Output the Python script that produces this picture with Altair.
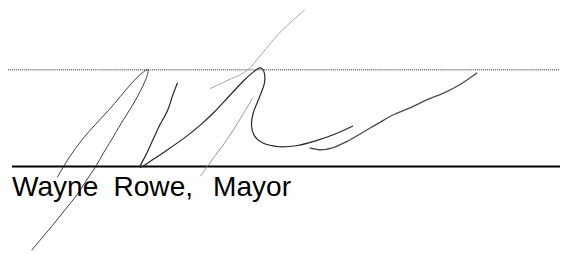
import altair as alt
import pandas as pd

# Signature strokes (x, y in picture pixels, y grows downward)
stroke_a_x = [58, 70, 83, 97, 110, 122, 133, 143, 150, 148, 141, 133, 123, 113, 105, 97, 87, 77, 65, 53, 42, 32]
stroke_a_y = [178, 158, 140, 124, 110, 96, 83, 73, 69, 78, 93, 107, 123, 140, 153, 167, 182, 197, 212, 227, 240, 252]
stroke_b_x = [180, 175, 170, 162, 155, 148, 142, 146, 155, 167, 187, 203, 217, 232, 247, 257, 264, 268, 268, 263, 257, 255, 258, 266, 283, 300, 320, 340, 358]
stroke_b_y = [82, 95, 110, 125, 140, 155, 167, 166, 160, 152, 138, 125, 112, 96, 80, 71, 67, 72, 83, 97, 112, 125, 136, 143, 147, 146, 141, 134, 126]
stroke_c_x = [213, 230, 250, 266, 283, 300, 316]
stroke_c_y = [88, 80, 70, 52, 32, 16, 2]
stroke_d_x = [256, 244, 230, 216, 203]
stroke_d_y = [98, 118, 140, 159, 177]
stroke_e_x = [314, 327, 340, 351, 367, 384, 400, 417, 434, 451, 468, 484]
stroke_e_y = [148, 150, 147, 142, 133, 123, 114, 107, 99, 92, 83, 72]
stroke_names = ["a", "b", "c", "d", "e"]
stroke_colors = ["#3a3a3a", "#262626", "#9a9a9a", "#8a8a8a", "#4a4a4a"]
stroke_widths = [1.0, 1.2, 0.9, 0.9, 1.3]

# Guide lines
dotted_x = [0, 568]
dotted_y = [69, 69]
solid_x = [12, 568]
solid_y = [167, 167]

# Caption "Wayne Rowe, Mayor", word by word (wide word spacing)
caption_words = ["Wayne", "Rowe,", "Mayor"]
caption_x = [12, 115, 216]
caption_y = [197, 197, 197]

xs = [stroke_a_x, stroke_b_x, stroke_c_x, stroke_d_x, stroke_e_x]
ys = [stroke_a_y, stroke_b_y, stroke_c_y, stroke_d_y, stroke_e_y]
rows = []
for name, sx, sy in zip(stroke_names, xs, ys):
    for i, (a, b) in enumerate(zip(sx, sy)):
        rows.append({"stroke": name, "i": i, "x": a, "y": b})
strokes = pd.DataFrame(rows)

xscale = alt.Scale(domain=[8, 568], range=[0, 560], nice=False, zero=False)
yscale = alt.Scale(domain=[8, 254], range=[0, 246], nice=False, zero=False)
X = lambda f: alt.X(f, type="quantitative", scale=xscale, axis=None)
Y = lambda f: alt.Y(f, type="quantitative", scale=yscale, axis=None)

dotted = alt.Chart(pd.DataFrame({"x": dotted_x, "y": dotted_y})).mark_line(
    color="#222222", strokeWidth=1, strokeDash=[1, 1], clip=True
).encode(x=X("x"), y=Y("y"))

solid = alt.Chart(pd.DataFrame({"x": solid_x, "y": solid_y})).mark_line(
    color="#000000", strokeWidth=2.2, clip=True
).encode(x=X("x"), y=Y("y"))

layers = [dotted, solid]
for name, col, w in zip(stroke_names, stroke_colors, stroke_widths):
    layers.append(
        alt.Chart(strokes[strokes.stroke == name]).mark_line(
            color=col, strokeWidth=w, interpolate="cardinal", clip=True
        ).encode(x=X("x"), y=Y("y"), order="i:Q")
    )

text = alt.Chart(pd.DataFrame({"t": caption_words, "x": caption_x, "y": caption_y})).mark_text(
    align="left", baseline="alphabetic", font="Liberation Sans", fontSize=28.5, color="#000000"
).encode(x=X("x"), y=Y("y"), text="t:N")
layers.append(text)

chart = alt.layer(*layers).properties(
    width=560, height=246, padding=0, autosize="none", background="white"
).configure_view(strokeWidth=0, stroke="transparent")

chart.save("out.html", embed_options={"renderer": "svg", "actions": False})
